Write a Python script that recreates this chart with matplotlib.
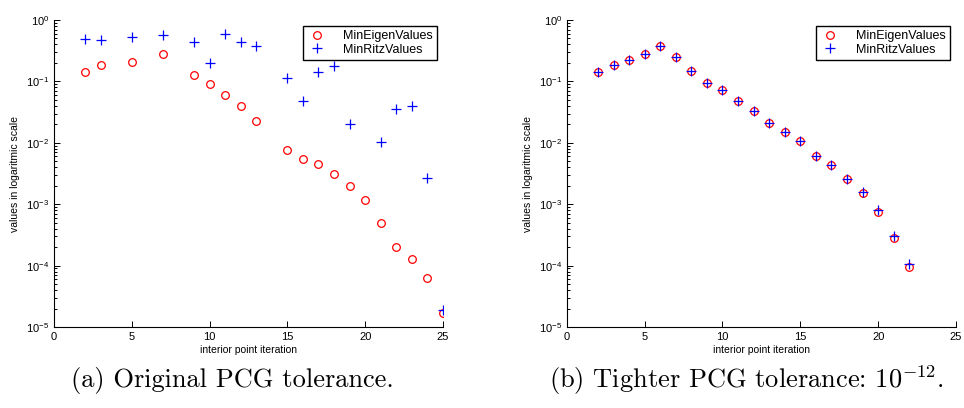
import numpy as np
import matplotlib.pyplot as plt
from matplotlib.ticker import LogLocator, NullFormatter

plt.rcParams['font.family'] = ['Liberation Sans', 'DejaVu Sans']
plt.rcParams['mathtext.fontset'] = 'custom'
plt.rcParams['mathtext.rm'] = 'Liberation Sans'
plt.rcParams['mathtext.it'] = 'Liberation Sans:italic'

# (a) original PCG tolerance
iter_a_eig = [2, 3, 5, 7, 9, 10, 11, 12, 13, 15, 16, 17, 18, 19, 20, 21, 22, 23, 24, 25]
eig_a = [0.144, 0.183, 0.205, 0.283, 0.127, 0.091, 0.0595, 0.040, 0.0225, 0.00776,
         0.0054, 0.0046, 0.00305, 0.00197, 0.00115, 0.00049, 0.0002, 0.000128, 6.4e-5, 1.69e-5]
iter_a_ritz = [2, 3, 5, 7, 9, 10, 11, 12, 13, 15, 16, 17, 18, 19, 21, 22, 23, 24, 25]
ritz_a = [0.485, 0.473, 0.529, 0.577, 0.444, 0.197, 0.60, 0.433, 0.382, 0.114,
          0.0475, 0.144, 0.176, 0.0206, 0.0102, 0.0356, 0.040, 0.00269, 1.91e-5]

# (b) tighter PCG tolerance
iter_b = list(range(2, 23))
eig_b = [0.1426, 0.185, 0.221, 0.276, 0.373, 0.247, 0.148, 0.0933, 0.0717, 0.0475, 0.0331,
         0.0211, 0.0149, 0.0109, 0.00613, 0.00432, 0.00256, 0.0015, 0.00074, 0.000277, 9.5e-5]
ritz_b = [0.1426, 0.185, 0.221, 0.276, 0.373, 0.247, 0.148, 0.0933, 0.0717, 0.0475, 0.0331,
          0.0211, 0.0149, 0.0109, 0.00613, 0.00432, 0.00258, 0.00157, 0.0008, 0.000298, 0.000107]

captions = ['(a) Original PCG tolerance.',
            '(b) Tighter PCG tolerance: $10^{-12}$.']

fig = plt.figure(figsize=(9.64, 4.08), dpi=100)
ax1 = fig.add_axes([0.056, 0.1985, 0.4035, 0.7525])
ax2 = fig.add_axes([0.588, 0.1985, 0.4037, 0.7525])

panels = [(ax1, iter_a_eig, eig_a, iter_a_ritz, ritz_a),
          (ax2, iter_b, eig_b, iter_b, ritz_b)]

for ax, xe, ye, xr, yr in panels:
    ax.semilogy(xe, ye, 'o', mfc='none', mec='red', ms=5.5, mew=0.9, label='MinEigenValues')
    ax.semilogy(xr, yr, '+', color='blue', ms=6.5, mew=0.9, label='MinRitzValues')
    ax.set_xlim(0, 25)
    ax.set_ylim(1e-5, 1)
    ax.set_xticks([0, 5, 10, 15, 20, 25])
    ax.yaxis.set_major_locator(LogLocator(base=10, numticks=10))
    ax.yaxis.set_minor_locator(LogLocator(base=10, subs=np.arange(2, 10), numticks=20))
    ax.yaxis.set_minor_formatter(NullFormatter())
    ax.spines['top'].set_visible(False)
    ax.spines['right'].set_visible(False)
    ax.tick_params(which='both', direction='in', labelsize=8, width=0.7)
    ax.tick_params(which='major', length=4)
    ax.tick_params(which='minor', length=2)
    ax.set_xlabel('interior point iteration', fontsize=7.5, labelpad=2)
    ax.set_ylabel('values in logaritmic scale', fontsize=7.5, labelpad=4)
    leg = ax.legend(loc='upper right', fontsize=9, fancybox=False, edgecolor='black',
                    framealpha=1, borderpad=0.3, handlelength=1.6, handletextpad=1.3,
                    borderaxespad=0.5, labelspacing=0.15)
    leg.get_frame().set_linewidth(1.0)

fig.text(0.241, 0.068, captions[0], ha='center', va='center', fontsize=19,
         family=['cmr10', 'DejaVu Serif'], math_fontfamily='cm')
fig.text(0.774, 0.068, captions[1], ha='center', va='center', fontsize=19,
         family=['cmr10', 'DejaVu Serif'], math_fontfamily='cm')

fig.savefig('out.png', dpi=100)
